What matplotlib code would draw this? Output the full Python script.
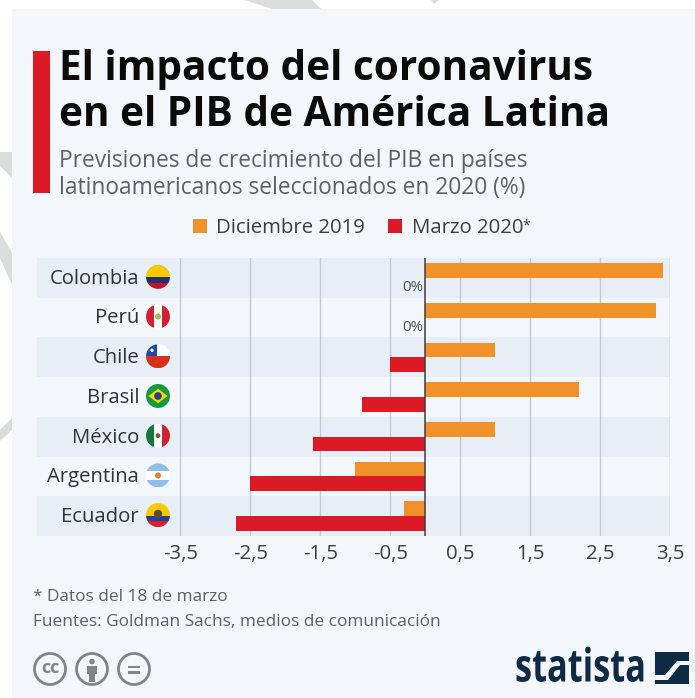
import numpy as np
import matplotlib
matplotlib.use("Agg")
import matplotlib.pyplot as plt
from matplotlib.patches import Circle, Polygon, Rectangle
from matplotlib.patheffects import AbstractPathEffect
from matplotlib.transforms import Affine2D

plt.rcParams["font.family"] = ["Open Sans", "DejaVu Sans"]

W, H = 695, 698

countries = ["Colombia", "Perú", "Chile", "Brasil", "México", "Argentina", "Ecuador"]
dic_2019 = [3.4, 3.3, 1.0, 2.2, 1.0, -1.0, -0.3]
mar_2020 = [0.0, 0.0, -0.5, -0.9, -1.6, -2.5, -2.7]
ticks = [-3.5, -2.5, -1.5, -0.5, 0.5, 1.5, 2.5, 3.5]
tick_labels = ["-3,5", "-2,5", "-1,5", "-0,5", "0,5", "1,5", "2,5", "3,5"]

ORANGE = "#f0912a"
RED = "#db1a26"
NAVY = "#0f2a44"
CARD = "#f3f6fa"
ICON = "#808488"


# no condensed font here, so squeeze the logo text sideways
class Squeeze(AbstractPathEffect):
    def __init__(self, sx, x0):
        super().__init__()
        self.sx = sx
        self.x0 = x0

    def draw_path(self, renderer, gc, tpath, affine, rgbFace=None):
        t = affine + Affine2D().translate(-self.x0, 0).scale(self.sx, 1).translate(self.x0, 0)
        renderer.draw_path(gc, tpath, t, rgbFace)


fig = plt.figure(figsize=(W / 100, H / 100), dpi=100, facecolor="white")

# overlay in pixel coords, y down like the picture
bg = fig.add_axes([0, 0, 1, 1])
bg.set_xlim(0, W)
bg.set_ylim(H, 0)
bg.axis("off")

# grey watermark bits sticking out behind the card
for pts in [
    [(0, 152), (12, 152), (12, 178), (0, 166)],
    [(0, 232), (12, 253), (12, 285), (0, 258)],
    [(0, 430), (12, 418), (12, 430), (0, 441)],
    [(245, 0), (272, 9), (321, 9), (312, 0)],
    [(431, 0), (434, 4), (439, 0)],
]:
    bg.add_patch(Polygon(pts, closed=True, fc="#dcdcdc", ec="none"))
bg.add_patch(Rectangle((12, 9), W - 12, H - 9, fc=CARD, ec="none"))

# title block
bg.add_patch(Rectangle((33, 51), 17, 142, fc=RED, ec="none"))
bg.text(59, 69, "El impacto del coronavirus", fontsize=29.2, fontweight="bold",
        color="#0a0a0a", va="center", ha="left")
bg.text(59, 116, "en el PIB de América Latina", fontsize=29.2, fontweight="bold",
        color="#0a0a0a", va="center", ha="left")
bg.text(59, 161, "Previsiones de crecimiento del PIB en países", fontsize=16.4,
        color="#5a6168", va="center", ha="left")
bg.text(59, 188, "latinoamericanos seleccionados en 2020 (%)", fontsize=16.4,
        color="#5a6168", va="center", ha="left")

# legend
bg.add_patch(Rectangle((193, 219), 14, 14, fc=ORANGE, ec="none"))
bg.text(216, 228, "Diciembre 2019", fontsize=14.7, color="#3a3f45", va="center")
bg.add_patch(Rectangle((388, 219), 14, 14, fc=RED, ec="none"))
bg.text(412, 228, "Marzo 2020", fontsize=14.7, color="#3a3f45", va="center")
bg.text(522, 226, "*", fontsize=10, color="#3a3f45", va="center")

# chart
ax_l, ax_r, ax_t, ax_b = 37, 670, 258, 536
ax = fig.add_axes([ax_l / W, 1 - ax_b / H, (ax_r - ax_l) / W, (ax_b - ax_t) / H])
ax.patch.set_alpha(0)
ax.set_xlim((ax_l - 425.5) / 70, (ax_r - 425.5) / 70)
ax.set_ylim(6.5, -0.5)
for s in ax.spines.values():
    s.set_visible(False)

for i in range(0, len(countries), 2):
    ax.axhspan(i - 0.5, i + 0.5, fc="#e8eef5", ec="none", zorder=0)
for t in ticks:
    ax.axvline(t, color="#c3cad2", lw=1.0, zorder=1)

y = np.arange(len(countries))
ax.barh(y - 0.185, dic_2019, height=0.37, color=ORANGE, zorder=2)
ax.barh(y + 0.185, mar_2020, height=0.37, color=RED, zorder=2)
ax.axvline(0, color="#3a3f45", lw=1.1, zorder=3)

for i, v in enumerate(mar_2020):
    if v == 0:
        ax.text(-0.03, i + 0.25, "0%", ha="right", va="center", fontsize=10.8, color="#4a4f55")

ax.set_xticks(ticks)
ax.set_xticklabels(tick_labels, fontsize=14.7, color="#3a3f45")
ax.tick_params(axis="x", length=0, pad=6)
ax.set_yticks([])
for i, name in enumerate(countries):
    ax.text(-4.09, i + 0.02, name, ha="right", va="center", fontsize=14.6, color="#2f3338")

# flags go on their own axes above the bands
top = fig.add_axes([0, 0, 1, 1], zorder=5)
top.set_xlim(0, W)
top.set_ylim(H, 0)
top.axis("off")


# flags, stripes clipped to a circle
def flag(name, cx, cy, r=12):
    clip = Circle((cx, cy), r, transform=top.transData)

    def band(x0, y0, x1, y1, c):
        p = Rectangle((cx + x0 * r, cy + y0 * r), (x1 - x0) * r, (y1 - y0) * r, fc=c, ec="none", zorder=5)
        top.add_patch(p)
        p.set_clip_path(clip)

    def dot(dx, dy, rad, c):
        top.add_patch(Circle((cx + dx * r, cy + dy * r), rad * r, fc=c, ec="none", zorder=6))

    if name == "Colombia":
        band(-1, -1, 1, 0.05, "#f7c900")
        band(-1, 0.05, 1, 0.5, "#23306f")
        band(-1, 0.5, 1, 1, "#c8102e")
    elif name == "Perú":
        band(-1, -1, -0.35, 1, "#d31f2f")
        band(-0.35, -1, 0.35, 1, "white")
        band(0.35, -1, 1, 1, "#d31f2f")
        dot(0, 0, 0.25, "#a5b55a")
    elif name == "Chile":
        band(-1, -1, 1, 0, "white")
        band(-1, 0, 1, 1, "#d8301f")
        band(-1, -1, -0.1, 0, "#1f4aa5")
        dot(-0.5, -0.5, 0.14, "white")
    elif name == "Brasil":
        band(-1, -1, 1, 1, "#169a3a")
        top.add_patch(Polygon([(cx - 0.8 * r, cy), (cx, cy - 0.6 * r), (cx + 0.8 * r, cy), (cx, cy + 0.6 * r)],
                              closed=True, fc="#f5d90a", ec="none", zorder=6))
        top.add_patch(Circle((cx, cy), 0.32 * r, fc="#24408e", ec="none", zorder=7))
    elif name == "México":
        band(-1, -1, -0.35, 1, "#0f7a3d")
        band(-0.35, -1, 0.35, 1, "white")
        band(0.35, -1, 1, 1, "#d31f2f")
        dot(0, 0, 0.2, "#7a5a30")
    elif name == "Argentina":
        band(-1, -1, 1, -0.35, "#8dbfe8")
        band(-1, -0.35, 1, 0.35, "white")
        band(-1, 0.35, 1, 1, "#8dbfe8")
        dot(0, 0, 0.25, "#d8862a")
    elif name == "Ecuador":
        band(-1, -1, 1, 0.05, "#f7c900")
        band(-1, 0.05, 1, 0.5, "#23409a")
        band(-1, 0.5, 1, 1, "#d31f2f")
        dot(0, -0.1, 0.35, "#5a4a30")


for i, name in enumerate(countries):
    flag(name, 158, ax_t + (i + 0.5) * (ax_b - ax_t) / 7 - 1)

# footer
bg.text(33, 597, "* Datos del 18 de marzo", fontsize=12.4, color="#5a6168", va="center")
bg.text(33, 622, "Fuentes: Goldman Sachs, medios de comunicación", fontsize=12.4, color="#5a6168", va="center")

# cc icons
for cx in [50, 92, 134]:
    bg.add_patch(Circle((cx, 669), 15.5, fc="none", ec=ICON, lw=2.0))
bg.text(50, 668, "cc", fontsize=13, fontweight="bold", color=ICON, ha="center", va="center")
bg.add_patch(Circle((92, 661.5), 2.8, fc=ICON, ec="none"))
bg.add_patch(Polygon([(87, 666), (97, 666), (97, 674), (95, 674), (95, 682), (89, 682), (89, 674), (87, 674)],
                     closed=True, fc=ICON, ec="none"))
bg.add_patch(Rectangle((128, 665.5), 12, 2.6, fc=ICON, ec="none"))
bg.add_patch(Rectangle((128, 671), 12, 2.6, fc=ICON, ec="none"))

# statista logo
bg.text(515, 669, "statista", fontsize=33, fontweight="bold", color=NAVY, ha="left", va="center",
        path_effects=[Squeeze(0.75, 515)])
bg.add_patch(Polygon([(655, 652), (689, 652), (689, 661), (677, 661), (665, 675), (655, 675)],
                     closed=True, fc=NAVY, ec="none"))
bg.add_patch(Polygon([(689, 665), (680, 665), (668, 680), (655, 680), (655, 684), (689, 684)],
                     closed=True, fc=NAVY, ec="none"))

fig.savefig("out.png", dpi=100, facecolor=fig.get_facecolor())
